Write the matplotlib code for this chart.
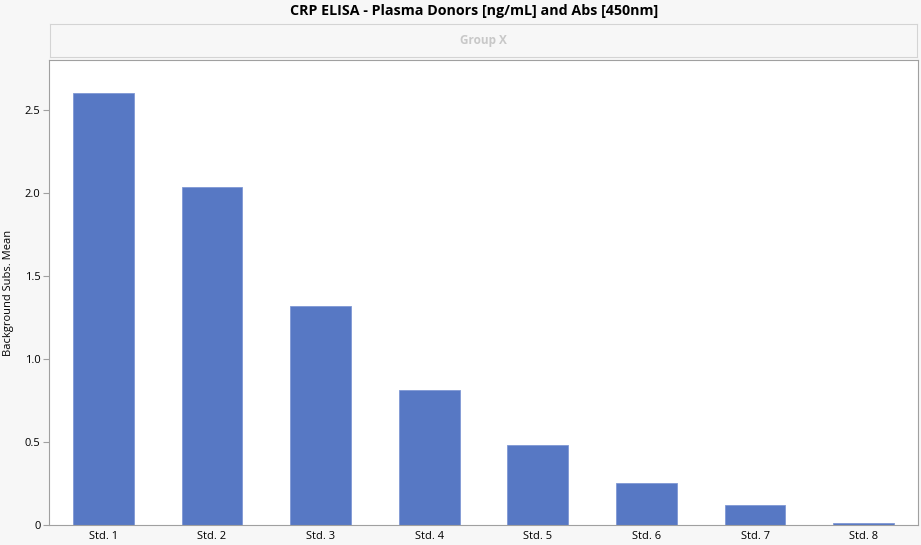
import numpy as np
from matplotlib import pyplot as plt

categories = ['Std. 1', 'Std. 2', 'Std. 3', 'Std. 4', 'Std. 5', 'Std. 6', 'Std. 7', 'Std. 8']
means = [2.60, 2.035, 1.32, 0.813, 0.482, 0.251, 0.12, 0.012]
y_ticks = [0, 0.5, 1.0, 1.5, 2.0, 2.5]
y_tick_labels = ['0', '0.5', '1.0', '1.5', '2.0', '2.5']

W, H = 921, 545
plt.rcParams['font.family'] = ['Open Sans', 'DejaVu Sans']

fig = plt.figure(figsize=(W / 100, H / 100), dpi=100)
fig.patch.set_facecolor('#f7f7f7')

# header band "Group X"
hdr = fig.add_axes([50 / W, (H - 57) / H, 867 / W, 33 / H])
hdr.set_facecolor('#f7f7f7')
hdr.set_xticks([])
hdr.set_yticks([])
for s in hdr.spines.values():
    s.set_color('#d4d4d4')
hdr.text(0.5, 0.5, 'Group X', ha='center', va='center', color='#c8c8c8',
         fontsize=8.5, fontweight='bold', transform=hdr.transAxes)

ax = fig.add_axes([49 / W, (H - 525) / H, 869 / W, 465 / H])
ax.set_facecolor('white')
x = np.arange(len(categories))
ax.bar(x, means, width=0.56, color='#5778c4', edgecolor='#7f98d4', linewidth=0.6)
ax.set_xlim(-0.5, len(categories) - 0.5)
ax.set_ylim(0, 2.8)
ax.set_xticks(x)
ax.set_xticklabels(categories, fontsize=8)
ax.set_yticks(y_ticks)
ax.set_yticklabels(y_tick_labels, fontsize=8)
ax.tick_params(axis='x', length=0, pad=4)
ax.tick_params(axis='y', length=4, color='#a0a0a0', pad=2)
for s in ax.spines.values():
    s.set_color('#a0a0a0')
ax.set_ylabel('Background Subs. Mean', fontsize=8, labelpad=8)

fig.text(474 / W, 1 - 11 / H, 'CRP ELISA - Plasma Donors [ng/mL] and Abs [450nm]',
         ha='center', va='center', fontsize=10.3, fontweight='bold')

fig.savefig('out.png', dpi=100, facecolor=fig.get_facecolor())
